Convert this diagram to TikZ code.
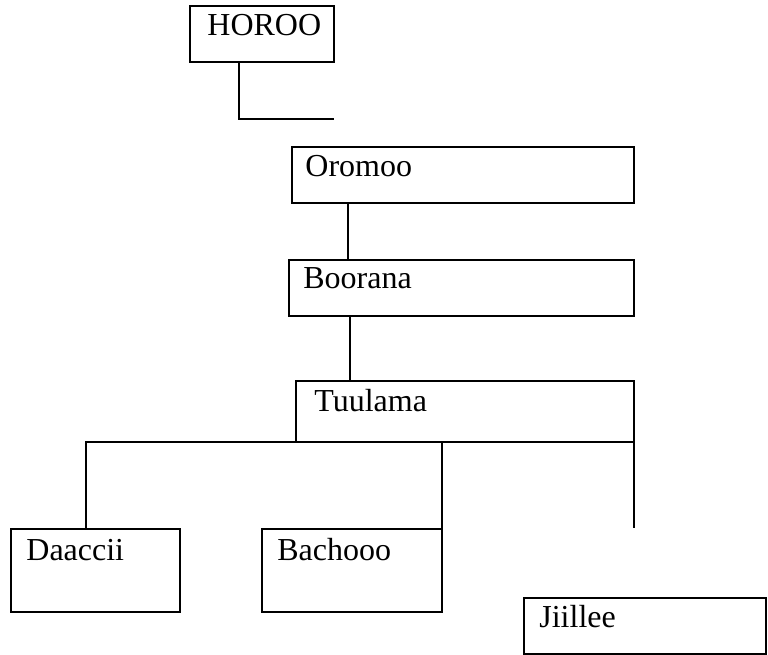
\documentclass[tikz,border=0pt]{standalone}
\usepackage{fontspec}
\setmainfont{Liberation Serif}
\usetikzlibrary{fit}
\begin{document}
\begin{tikzpicture}[x=0.5pt,y=-0.5pt,
  box/.style={draw,line width=0.7pt,inner sep=0pt,outer sep=0pt,rectangle},
  lbl/.style={anchor=base west,inner sep=0pt,font=\fontsize{16}{19}\selectfont},
  conn/.style={line width=0.7pt}]
\useasboundingbox (0,0) rectangle (768,655);
% boxes
\node[box,fit={(190,6) (334,62)}] (horoo) {};
\node[box,fit={(292,147) (634,203)}] (oromoo) {};
\node[box,fit={(289,260) (634,316)}] (boorana) {};
\node[box,fit={(296,381) (634,442)}] (tuulama) {};
\node[box,fit={(11,529) (180,612)}] (daaccii) {};
\node[box,fit={(262,529) (442,612)}] (bachooo) {};
\node[box,fit={(524,598) (766,654)}] (jiillee) {};
% labels
\node[lbl] (thoroo) at (207,35) {HOROO};
\node[lbl] (toromoo) at (305,176) {Oromoo};
\node[lbl] (tboorana) at (303,288) {Boorana};
\node[lbl] (ttuulama) at (314,411) {Tuulama};
\node[lbl] (tdaaccii) at (26,560) {Daaccii};
\node[lbl] (tbachooo) at (277,560) {Bachooo};
\node[lbl] (tjiillee) at (539,627) {Jiillee};
% free ends
\coordinate (hend) at (334,119);
\coordinate (jend) at (634,528);
% connectors
\draw[conn] ([xshift=24.5pt]horoo.south west) |- (hend);
\draw[conn] ([xshift=28pt]oromoo.south west) -- ([xshift=29.5pt]boorana.north west);
\draw[conn] ([xshift=30.5pt]boorana.south west) -- ([xshift=27pt]tuulama.north west);
\draw[conn] ([xshift=37.5pt]daaccii.north west) |- (tuulama.south east);
\draw[conn] (bachooo.north east) -- (bachooo.north east |- tuulama.south);
\draw[conn] (tuulama.south east) -- (jend);
\end{tikzpicture}
\end{document}
